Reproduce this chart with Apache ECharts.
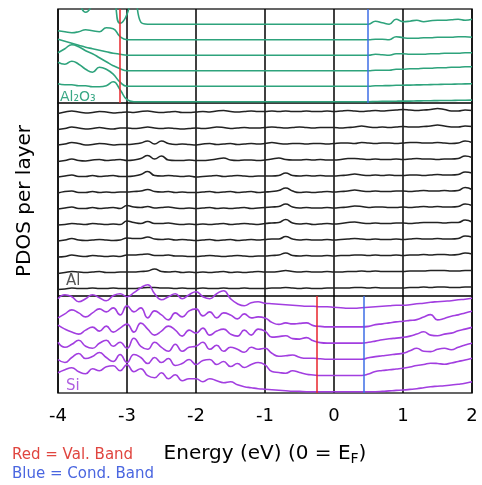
<!DOCTYPE html>
<html><head><meta charset="utf-8">
<script src="https://cdn.jsdelivr.net/npm/echarts@6/dist/echarts.min.js"></script>
<style>html,body{margin:0;padding:0;background:#fff}#c{width:482px;height:485px}</style>
</head><body><div id="c"></div>
<script>
// Energy grid (eV, 0 = E_F)
const energy = [-4.0,-3.9,-3.8,-3.7,-3.6,-3.5,-3.4,-3.3,-3.2,-3.1,
 -3.0,-2.9,-2.8,-2.7,-2.6,-2.5,-2.4,-2.3,-2.2,-2.1,
 -2.0,-1.9,-1.8,-1.7,-1.6,-1.5,-1.4,-1.3,-1.2,-1.1,
 -1.0,-0.9,-0.8,-0.7,-0.6,-0.5,-0.4,-0.3,-0.2,-0.1,
 0.0,0.1,0.2,0.3,0.4,0.5,0.6,0.7,0.8,0.9,
 1.0,1.1,1.2,1.3,1.4,1.5,1.6,1.7,1.8,1.9,
 2.0];
const xTickLabels = [-4,-3,-2,-1,0,1,2];

// Band edges (eV)
const alo_vbm = -3.11, alo_cbm = 0.49;
const si_vbm = -0.25, si_cbm = 0.43;

// Al2O3 layers (bottom -> top)
const alo_L1 = [18,17,17,16,16,15,15,16,20,12, 2,0,0,0,0,0,0,0,0,0, 0,0,0,0,0,0,0,0,0,0, 0,0,0,0,0,0,0,0,0,0, 0,0,0,0,0,0,0.2,0.3,0.3,0.5, 0.6,0.6,0.8,0.9,1,1.1,1.2,1.2,1.4,1.5, 1.6];
const alo_L2 = [24,22,25,22,17,14,19,17,12,4, 0,0,0,0,0,0,0,0,0,0, 0,0,0,0,0,0,0,0,0,0, 0,0,0,0,0,0,0,0,0,0, 0,0,0,0,0,0,0.4,0.5,0.6,0.9, 1.0,1.1,1.3,1.4,1.6,1.7,1.9,2.0,2.2,2.3, 2.5];
const alo_L3 = [18,22,26,24,20,17,13,9,5,2, 0,0,0,0,0,0,0,0,0,0, 0,0,0,0,0,0,0,0,0,0, 0,0,0,0,0,0,0,0,0,0, 0,0,0,0,0,0,0.5,0.5,0.5,1.5, 1.5,2,2,2.5,2.5,3,3,3.5,3.5,4, 4];
const alo_L4 = [16,14,12,10,8,6.5,5,3.5,2,1, 0,0,0,0,0,0,0,0,0,0, 0,0,0,0,0,0,0,0,0,0, 0,0,0,0,0,0,0,0,0,0, 0,0,0,0,0,0,1,0.5,0,1.5, 1.5,1,1,1,1.5,1.5,2,2,2,2.5, 2.5];
const alo_L5 = [9,8,7,8,10,9,8,12,11,3, 0,0,0,0,0,0,0,0,0,0, 0,0,0,0,0,0,0,0,0,0, 0,0,0,0,0,0,0,0,0,0, 0,0,0,0,0,0,0.5,0.5,0,3, 2,1.5,1.5,2,2,2.5,2.5,2.5,3,3, 2.5];
const alo_L6 = [30,35,25,20,12,20,35,40,30,1, 10,35,2,0,0,0,0,0,0,0, 0,0,0,0,0,0,0,0,0,0, 0,0,0,0,0,0,0,0,0,0, 0,0,0,0,0,0,3,1.5,0,5, 2.5,3,4,2.5,3.5,4,4,4.5,5,4, 5];

// Al layers (bottom -> top)
const al_L1 = [4,4.5,5.5,5,5,5.5,5,5,5.5,5, 5,5,5.5,6,6,5.5,5.5,5,5.5,5, 5,5.5,5,5,5.5,5,5,5.5,5,5, 5,5.5,5.5,6,5.5,5,5.5,5,5,5.5, 5.5,5.5,5.5,6,6,5.5,6,5.5,5.5,5.5, 5.5,6,6,6.5,6,6.5,6.5,6,6,6.5, 6.5];
const al_L2 = [4,5,6,5.5,5,5.5,6,5,5,5.5, 5.5,5.5,6,6.5,8.5,6,5.5,6,5,5.5, 5,5.5,5,5.5,6,5,5.5,5,5.5,6, 5.5,5.5,6,7,6,5.5,6,5.5,5.5,6, 5.5,5.5,6,6,6.5,6,6.5,6,6,6, 6,6.5,6.5,6.5,7,7,7,6.5,6.5,7, 7];
const al_L3 = [4.5,5,6.5,5.5,5,6,5.5,5,5.5,5, 6.5,6.5,7,7.5,6,6,6.5,5.5,5.5,5, 5,5.5,6,5.5,5,5.5,6,5.5,5,5.5, 5.5,6,6.5,8.5,6,5.5,6,5.5,5.5,6, 5.5,6,6,6.5,6.5,6,6.5,6,6,6.5, 6,6.5,6.5,7,6.5,7,7,6.5,7,8.5, 7.5];
const al_L4 = [4.5,5.5,7,5.5,5,5.5,6,5.5,5,5.5, 7.5,7,7,8.5,6.5,6,6.5,5.5,6,5.5, 5,5.5,6,5,5.5,6,5,5.5,6,5.5, 6,6.5,6.5,9,6.5,5.5,6,5.5,5.5,6, 5.5,6,6.5,7,6.5,6,6.5,6,6,6.5, 6,6.5,7,6.5,6.5,7,6.5,6.5,7,9.5, 8.5];
const al_L5 = [4.5,5,6,5.5,5,6,5.5,5,5.5,5, 8.5,7,6,8,6,6,6.5,5.5,5,5.5, 5,5.5,5,5.5,6,5,5.5,6,5.5,5, 6,6.5,7,10,6.5,5.5,6,5,5.5,6, 5.5,6,7,7.5,6.5,6,6.5,6,6,6.5, 6.5,6,6.5,7,7,7,6.5,7,7,9.5, 7.5];
const al_L6 = [4.5,5.5,6.5,5,5,6,5,5.5,6,5, 8,6.5,6,7,5.5,6,6.5,5.5,5,5.5, 5,5.5,6,5,5.5,5,5.5,6,5,5.5, 6,6.5,7,9.5,6.5,5.5,6,5.5,5.5,6, 5.5,6,6.5,7.5,7,6,6.5,6.5,6,6, 6.5,6,6.5,7,6.5,7,6.5,6.5,7,9.5, 8];
const al_L7 = [4.5,6,6.5,5,5,6,5,5.5,5,5.5, 5.5,6,6.5,8,6,5.5,6,5,5.5,5, 5,5.5,6,5,5.5,6,5,5.5,6,5, 5.5,6,7,9.5,6.5,5,5.5,5,5.5,6, 5.5,6,6.5,7.5,6.5,6,6.5,6,6,6.5, 6.5,6,6.5,7,6.5,6.5,7,6.5,7,10, 8];
const al_L8 = [4.5,5.5,6.5,5,5,6,5,5.5,6,5, 5,5.5,7,10,6,5.5,6,5.5,5,5.5, 4.5,5,5.5,6,5,5.5,6,5.5,5,5.5, 5.5,5.5,6,8.5,6,5.5,6,5.5,6,5.5, 5.5,6,6.5,7.5,6.5,6,6.5,6,6.5,6, 6,6.5,6.5,6,6.5,7,6.5,6.5,7,9.5, 8.5];
const al_L9 = [4,5,6.5,5,4.5,5.5,6,5,5.5,6, 5,5.5,7,10,6.5,9.5,5.5,5,5,5.5, 5,5,5.5,6.5,7.5,5.5,5,5.5,5.5,5, 5.5,6.5,7.5,6,5.5,5.5,6,5.5,6,5.5, 5.5,6,7,7,6.5,6,6.5,6,6,6.5, 6,6.5,7,6.5,6.5,6,6.5,6.5,7,9.5, 8];
const al_L10 = [4.5,5.5,7,6,4.5,5,6,5.5,4.5,5, 5,5.5,6.5,8.5,5.5,8.5,6,5,5.5,5, 4.5,5.5,6,5,5.5,6,5,5.5,6,5.5, 6,7,6,5.5,6,6,5.5,6,6,5.5, 6,6.5,6.5,6,7,6.5,6,6.5,6.5,6, 6.5,7,7,6.5,6.5,7,6.5,6,6.5,8.5, 7];
const al_L11 = [4,5,6.5,5.5,4.5,5,6,5,4.5,5.5, 5.5,5,5.5,6.5,5.5,5,5.5,5,4.5,5, 5.5,5,5.5,6.5,6,5,5.5,6,5.5,5.5, 6,6.5,6,5.5,6,6.5,6,5.5,6,6, 6,5.5,6,6.5,7.5,6.5,6,6.5,6,6.5, 7,6.5,6.5,7,7.5,8.5,7.5,6.5,6.5,7.5, 7];
const al_L12 = [4,5.5,6.5,5.5,4.5,5,6,5.5,4.5,5, 5.5,5,6,6.5,5.5,5,5.5,6,5,5, 5.5,6,5.5,6.5,7,6,5.5,6,6.5,6, 6,6.5,6,6.5,6,6,6.5,6,6,6.5, 6,6.5,7,6.5,6,6.5,7,6.5,7,7.5, 8,7.5,7,7.5,8,9,8,6.5,6.5,7.5, 7];

// Si layers (bottom -> top)
const si_L1 = [19,22,24,20,18,23,21,25,26,21, 27,20,23,16,14,19,13,17,11,13, 13,10,13,11,9,10,7,5,4,3, 2.5,2,1.5,1,0.5,0.3,0,0,0,0, 0,0,0,0,0,0,0,0.3,0.8,1.3, 1.7,2.3,3,4,5,5.5,6,6.7,7.5,8.5, 10];
const si_L2 = [16,13,18,22,17,19,23,18,14,21, 13,21,18,12,18,13,17,10,12,16, 11,15,16,11,14,9,12,8,11,13, 10.7,4,3,2.3,4.7,3,1.3,0.5,0,0, 0,0,0,0,0,1.5,4,5,5.7,6.5, 7.3,8.5,10,11,12.3,12,11.3,12.5,14,15.5, 17.3];
const si_L3 = [17,12,15,19,13,11,16,19,13,17, 11,21,13,10,17,12,8,15,8,12, 13,17,10,14,8,12,10,7,12,10, 11,6,3,3.5,4.3,2,1,1,0.5,0, 0,0,0,0,0,1.5,2.7,3.5,4.3,5.2, 6,8.5,11,8,7.7,10,11,9.5,12,14.3, 16];
const si_L4 = [18,14,11,9,13,16,12,17,11,15, 19,11,20,14,8,12,17,13,7,13, 10,15,8,12,14,9,7,13,8,14, 12,6,6.5,7.3,4.5,4,5.5,2.3,0.5,0, 0,0,0,0,0,0.8,2,3.3,4.3,5, 5.7,7,9,11.3,8,7.3,9,10,12.3,14, 15.7];
const si_L5 = [9,13,17,14,10,14,18,15,19,12, 21,15,19,9,16,12,7,14,10,16, 18,11,15,9,14,12,8,13,9,10, 9,4.5,2.5,4,3,3.5,4,1.3,0.5,0, 0,0,0,0,0,0.5,2.3,3,4,5, 5.7,6.5,7.3,10,12.3,7,8.5,10.7,12,14, 15.7];
const si_L6 = [12,16,14,9,12,16,13,10,15,17, 14,18,23,26,17,11,14,17,12,16, 19,14,12,17,20,12,7,5,8,9, 7.5,7,6.5,6,5.5,5,4.5,4.5,4,4, 3.5,3,2.5,2.5,3,3.5,4,4.5,5,5.5, 5.5,6,7,7.5,8.5,9,9.5,10,11,11.5, 12.5];

const aloLayers = [alo_L1, alo_L2, alo_L3, alo_L4, alo_L5, alo_L6];
const alLayers = [al_L1, al_L2, al_L3, al_L4, al_L5, al_L6, al_L7, al_L8, al_L9, al_L10, al_L11, al_L12];
const siLayers = [si_L1, si_L2, si_L3, si_L4, si_L5, si_L6];

const FONT = 'DejaVu Sans';
const GREEN = '#2ea37c', BLACK = '#222222', PURPLE = '#a23ee0';
const RED = '#e8252b', BLUE = '#3d6ee6';

const L = 58, W = 414;
const grids = [
  {left: L, width: W, top: 9, height: 94},
  {left: L, width: W, top: 103, height: 193},
  {left: L, width: W, top: 296, height: 97}
].map(g => Object.assign(g, {show: true, borderColor: '#333', borderWidth: 1.5, backgroundColor: 'transparent', containLabel: false}));

const xAxes = [0,1,2].map(i => ({
  type: 'value', gridIndex: i, min: -4, max: 2, interval: 1,
  axisLine: {show: false}, axisTick: {show: false},
  splitLine: {show: true, lineStyle: {color: '#000', width: 1.5}},
  axisLabel: {show: i === 2, fontSize: 18, color: '#000', fontFamily: FONT, margin: 14,
    formatter: v => xTickLabels.includes(v) ? String(v) : ''}
}));
const yAxes = [94, 193, 97].map((h, i) => ({type: 'value', gridIndex: i, min: 0, max: h, show: false}));

function mkSeries(layers, idx, base, step, color, clip, width) {
  return layers.map((vals, k) => ({
    type: 'line', xAxisIndex: idx, yAxisIndex: idx,
    data: energy.map((e, i) => [e, base + step * k + vals[i]]),
    showSymbol: false, smooth: 0.5, clip: clip, silent: true,
    lineStyle: {color: color, width: width}, z: 3
  }));
}
function bandLines(idx, vbm, cbm) {
  return {
    type: 'line', xAxisIndex: idx, yAxisIndex: idx, data: [], silent: true, z: 5,
    markLine: {silent: true, symbol: 'none', label: {show: false}, animation: false,
      lineStyle: {type: 'solid', width: 1.5},
      data: [{xAxis: vbm, lineStyle: {color: RED, type: 'solid', width: 1.5}},
             {xAxis: cbm, lineStyle: {color: BLUE, type: 'solid', width: 1.5}}]}
  };
}

const series = [].concat(
  mkSeries(aloLayers, 0, 1.3, 15.5, GREEN, true, 1.6),
  mkSeries(alLayers, 1, 2.5, 16, BLACK, true, 1.6),
  mkSeries(siLayers, 2, 1.3, 16.2, PURPLE, false, 1.6),
  [bandLines(0, alo_vbm, alo_cbm), bandLines(2, si_vbm, si_cbm)]
);

const chart = echarts.init(document.getElementById('c'), null, {renderer: 'canvas'});
chart.setOption({
  animation: false,
  backgroundColor: '#fff',
  grid: grids, xAxis: xAxes, yAxis: yAxes, series: series,
  graphic: [
    {type: 'text', x: 25, y: 201, rotation: Math.PI / 2,
     style: {text: 'PDOS per layer', fontSize: 20, fontFamily: FONT, fill: '#000', align: 'center', verticalAlign: 'middle'}},
    {type: 'text', x: 265, y: 454,
     style: {text: 'Energy (eV) (0 = E{sub|F})', fontSize: 20, fontFamily: FONT, fill: '#000', align: 'center', verticalAlign: 'middle', lineHeight: 24,
       rich: {sub: {fontSize: 14, fontFamily: FONT, fill: '#000', lineHeight: 14, verticalAlign: 'bottom'}}}},
    {type: 'text', x: 12, y: 455, style: {text: 'Red = Val. Band', fontSize: 15, fontFamily: FONT, fill: '#e0453f', verticalAlign: 'middle'}},
    {type: 'text', x: 12, y: 474, style: {text: 'Blue = Cond. Band', fontSize: 15, fontFamily: FONT, fill: '#4a66e0', verticalAlign: 'middle'}},
    {type: 'text', x: 60, y: 97, z: 10, style: {text: 'Al₂O₃', fontSize: 14, fontFamily: FONT, fill: '#3aa886', verticalAlign: 'middle'}},
    {type: 'text', x: 66, y: 281, z: 10, style: {text: 'Al', fontSize: 15, fontFamily: FONT, fill: '#555', verticalAlign: 'middle'}},
    {type: 'text', x: 66, y: 386, z: 10, style: {text: 'Si', fontSize: 15, fontFamily: FONT, fill: '#b060e0', verticalAlign: 'middle'}}
  ]
});
</script>
</body></html>
